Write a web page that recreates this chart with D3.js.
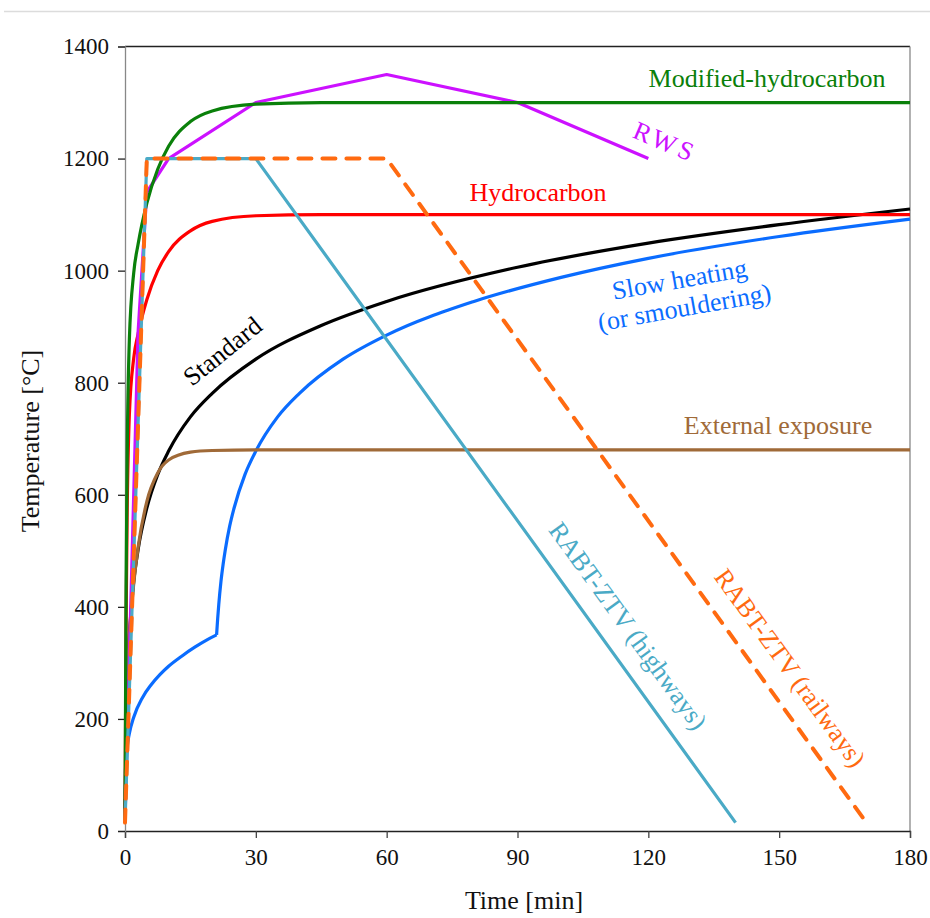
<!DOCTYPE html>
<html>
<head>
<meta charset="utf-8">
<script src="https://cdn.jsdelivr.net/npm/d3@7"></script>
<style>
  body { margin: 0; background: #fff; }
  text { font-family: "Liberation Serif", "Times New Roman", serif; }
</style>
</head>
<body>
<svg id="chart" width="930" height="918"></svg>
<script>
// time [min] / temperature [°C]
var stdT = [0, 0.5, 1, 2, 3, 5, 7.5, 10, 15, 20, 30, 45, 60, 90, 120, 150, 180],
    stdV = [20, 261, 349, 445, 502, 576, 636, 678, 739, 781, 842, 902, 945, 1006, 1049, 1082, 1110]

var hcT = [0, 0.25, 0.5, 1, 2, 3, 5, 7.5, 10, 15, 20, 30, 45, 60, 180],
    hcV = [20, 373, 568, 743, 844, 887, 948, 1000, 1034, 1071, 1088, 1098, 1100, 1100, 1100]

var mhcT = [0, 0.25, 0.5, 1, 2, 3, 5, 7.5, 10, 15, 20, 30, 45, 60, 180],
    mhcV = [20, 439, 670, 877, 996, 1047, 1120, 1181, 1222, 1266, 1285, 1297, 1300, 1300, 1300]

var extT = [0, 0.25, 0.5, 1, 2, 3, 5, 7.5, 10, 15, 20, 30, 180],
    extV = [20, 182, 263, 346, 441, 506, 588, 639, 662, 676, 679, 680, 680]

var slowT1 = [0, 0.1, 0.5, 1, 2, 4, 6, 8, 10, 13, 16, 19, 21],
    slowV1 = [20, 107, 150, 174, 203, 238, 261, 279, 294, 312, 328, 342, 350],
    slowT2 = [21, 21.25, 21.5, 22, 22.5, 23, 24, 25, 27.5, 30, 35, 40, 50, 60, 80, 100, 120, 150, 180],
    slowV2 = [350, 379, 404, 445, 476, 502, 544, 576, 636, 678, 739, 781, 842, 885, 945, 988, 1022, 1061, 1092]

var rwsT = [0, 3, 5, 10, 30, 60, 90, 120],
    rwsV = [20, 890, 1140, 1200, 1300, 1350, 1300, 1200]

var rabtHwT = [0, 5, 30, 140],
    rabtHwV = [15, 1200, 1200, 15]

var rabtRwT = [0, 5, 60, 170],
    rabtRwV = [15, 1200, 1200, 15]

var xTicks = [0, 30, 60, 90, 120, 150, 180],
    yTicks = [0, 200, 400, 600, 800, 1000, 1200, 1400]

var TEXT_FONT = 26,
    TICK_FONT = 23

var svg = d3.select('#chart')

var x = d3.scaleLinear().domain([0, 180]).range([125, 910]),
    y = d3.scaleLinear().domain([0, 1400]).range([831, 46.5])

// thin rule along the top of the image
svg.append('line')
    .attr('x1', 4).attr('x2', 930)
    .attr('y1', 11.5).attr('y2', 11.5)
    .style('stroke', '#dcdcdc').style('stroke-width', 1.5)

// frame
svg.append('line')
    .attr('x1', x(0)).attr('x2', x(180))
    .attr('y1', y(1400)).attr('y2', y(1400))
    .style('stroke', '#222').style('stroke-width', 1.3)
svg.append('line')
    .attr('x1', x(180)).attr('x2', x(180))
    .attr('y1', y(1400)).attr('y2', y(0))
    .style('stroke', '#888').style('stroke-width', 1.3)

var xAxis = svg.append('g')
    .attr('transform', 'translate(0,' + y(0) + ')')
    .call(d3.axisBottom(x).tickValues(xTicks).tickSize(7).tickPadding(11).tickFormat(d3.format('d')))
xAxis.select('.domain').style('stroke', '#222').style('stroke-width', 1.3)
xAxis.selectAll('.tick line').style('stroke', '#444').style('stroke-width', 1.3)
xAxis.selectAll('text')
    .attr('font-size', TICK_FONT)
    .attr('fill', '#111')
    .style('font-family', '"Liberation Serif", serif')

var yAxis = svg.append('g')
    .attr('transform', 'translate(' + x(0) + ',0)')
    .call(d3.axisLeft(y).tickValues(yTicks).tickSize(7).tickPadding(9).tickFormat(d3.format('d')))
yAxis.select('.domain').style('stroke', '#888').style('stroke-width', 1.3)
yAxis.selectAll('.tick line').style('stroke', '#222').style('stroke-width', 1.3)
yAxis.selectAll('text')
    .attr('font-size', TICK_FONT)
    .attr('fill', '#111')
    .style('font-family', '"Liberation Serif", serif')

svg.append('text')
    .text('Time [min]')
    .attr('x', 524).attr('y', 909)
    .attr('text-anchor', 'middle')
    .attr('font-size', TEXT_FONT)
    .attr('fill', '#111')

svg.append('text')
    .text('Temperature [°C]')
    .attr('transform', 'translate(39,441) rotate(-90)')
    .attr('text-anchor', 'middle')
    .attr('font-size', TEXT_FONT)
    .attr('fill', '#111')

function pts(ts, vs) {
    return ts.map(function(t, i){ return [t, vs[i]] })
}

var smooth = d3.line().x(function(d){ return x(d[0]) }).y(function(d){ return y(d[1]) }).curve(d3.curveMonotoneX),
    straight = d3.line().x(function(d){ return x(d[0]) }).y(function(d){ return y(d[1]) })

var series = [
    {data: pts(stdT, stdV), color: '#000000', gen: smooth},
    {data: pts(slowT1, slowV1), color: '#0a6cff', gen: smooth},
    {data: pts(slowT2, slowV2), color: '#0a6cff', gen: smooth},
    {data: pts(hcT, hcV), color: '#ff0000', gen: smooth},
    {data: pts(extT, extV), color: '#a06a38', gen: smooth},
    {data: pts(rwsT, rwsV), color: '#cc11ff', gen: straight},
    {data: pts(mhcT, mhcV), color: '#0a800a', gen: smooth},
    {data: pts(rabtHwT, rabtHwV), color: '#4aaac6', gen: straight},
    {data: pts(rabtRwT, rabtRwV), color: '#ff6a10', gen: straight, dash: '13,11', width: 4}
]

svg.append('g').selectAll('path.curve')
    .data(series)
    .enter().append('path')
    .attr('class', 'curve')
    .attr('d', function(d){ return d.gen(d.data) })
    .style('fill', 'none')
    .style('stroke', function(d){ return d.color })
    .style('stroke-width', function(d){ return d.width || 3.2 })
    .style('stroke-linejoin', 'round')
    .style('stroke-linecap', function(d){ return d.dash ? 'round' : 'butt' })
    .style('stroke-dasharray', function(d){ return d.dash || null })

// curve labels
var labels = [
    {text: 'Modified-hydrocarbon', x: 767, y: 87, rot: 0, color: '#0a800a'},
    {text: 'RWS', x: 662, y: 150, rot: 23, color: '#cc11ff', spacing: 4},
    {text: 'Hydrocarbon', x: 538, y: 201, rot: 0, color: '#ff0000'},
    {text: 'Slow heating', x: 681, y: 288, rot: -10, color: '#0a6cff'},
    {text: '(or smouldering)', x: 686, y: 316, rot: -10, color: '#0a6cff'},
    {text: 'Standard', x: 228, y: 358, rot: -39, color: '#000000'},
    {text: 'External exposure', x: 778, y: 434, rot: 0, color: '#a06a38'},
    {text: 'RABT-ZTV (highways)', x: 621, y: 631, rot: 54, color: '#4aaac6'},
    {text: 'RABT-ZTV (railways)', x: 783, y: 673, rot: 54, color: '#ff6a10'}
]

svg.append('g').selectAll('text.lbl')
    .data(labels)
    .enter().append('text')
    .attr('class', 'lbl')
    .text(function(d){ return d.text })
    .attr('transform', function(d){ return 'translate(' + d.x + ',' + d.y + ') rotate(' + d.rot + ')' })
    .attr('text-anchor', 'middle')
    .attr('font-size', TEXT_FONT)
    .attr('letter-spacing', function(d){ return d.spacing || 0 })
    .attr('fill', function(d){ return d.color })
</script>
</body>
</html>
